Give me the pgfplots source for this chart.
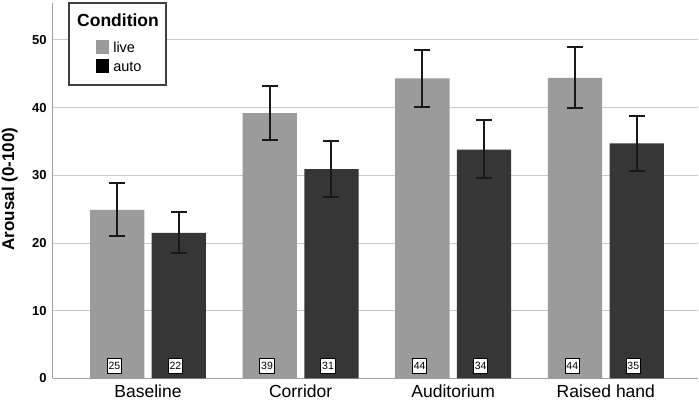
\documentclass[border=0pt]{standalone}
\usepackage{pgfplots}
\pgfplotsset{compat=1.18}
\usepackage{fontspec}
\setmainfont{Liberation Sans}
\definecolor{live}{HTML}{9B9B9B}
\definecolor{auto}{HTML}{363636}
\definecolor{gridc}{HTML}{C8C8C8}
\definecolor{axc}{HTML}{A0A0A0}
\begin{document}
\begin{tikzpicture}[x=1pt,y=1pt]
\begin{axis}[
  at={(53pt,21.6pt)}, anchor=south west,
  scale only axis, width=645pt, height=375.4pt,
  xmin=-0.6225, xmax=3.604, ymin=0, ymax=55.45,
  clip=false,
  axis lines*=left,
  axis line style={axc, line width=1pt},
  x axis line style={-}, y axis line style={-},
  major tick length=0pt,
  ytick={0,10,20,30,40,50},
  ymajorgrids, grid style={gridc, line width=1pt},
  xtick={0,1,2,3},
  xticklabels={Baseline,Corridor,Auditorium,Raised hand},
  /pgf/number format/assume math mode=true,
  yticklabel style={font=\fontsize{13}{15}\selectfont\bfseries, anchor=east, inner sep=0pt, xshift=-6.3pt},
  xticklabel style={font=\fontsize{17.5}{20}\selectfont, anchor=base, inner sep=0pt, yshift=-19pt},
  ylabel={\textbf{Arousal (0-100)}},
  ylabel style={font=\fontsize{17}{20}\selectfont, at={(axis description cs:-0.0671,0.5045)}, anchor=center, rotate=0},
  legend style={draw=none, fill=none, inner sep=0pt, outer sep=0pt,
    at={(axis description cs:0.0662,0.9014)}, anchor=north west,
    column sep=4.7pt, row sep=5.3pt,
    nodes={inner sep=0pt, font=\fontsize{14.5}{16}\selectfont}},
  legend cell align=left,
  error bars/error bar style={line width=2pt, black!90},
  error bars/error mark options={line width=2pt, black!90, mark size=8pt, rotate=90},
]
\draw[black!75, line width=1.2pt, fill=white] (axis description cs:0.0248,0.7816) rectangle (axis description cs:0.1752,1.0);
\node[anchor=base west, font=\fontsize{17.5}{20}\selectfont\bfseries, inner sep=0pt] at (axis description cs:0.0372,0.9369) {Condition};

\addplot[forget plot, ybar, bar width=54.3pt, fill=live, draw=none,
  error bars/.cd, y dir=both, y explicit]
  coordinates {
  (-0.202,24.9) += (0,3.9) -= (0,3.8)
  (0.798,39.2) += (0,4.0) -= (0,4.0)
  (1.798,44.3) += (0,4.2) -= (0,4.2)
  (2.798,44.4) += (0,4.5) -= (0,4.4)
  };
\addplot[forget plot, ybar, bar width=54.3pt, fill=auto, draw=none,
  error bars/.cd, y dir=both, y explicit]
  coordinates {
  (0.202,21.5) += (0,3.1) -= (0,3.0)
  (1.202,30.9) += (0,4.1) -= (0,4.1)
  (2.202,33.8) += (0,4.3) -= (0,4.2)
  (3.202,34.7) += (0,4.1) -= (0,4.1)
  };
\addplot[forget plot, only marks, mark=none, nodes near coords, point meta=explicit symbolic,
  nodes near coords align=center,
  every node near coord/.style={draw=black, line width=0.9pt, fill=white, inner sep=0pt,
    minimum width=14.5pt, minimum height=15pt, font=\fontsize{10.5}{12}\selectfont, anchor=center}]
  coordinates {
  (-0.22,1.86) [25] (0.18,1.86) [22]
  (0.78,1.86) [39] (1.18,1.86) [31]
  (1.78,1.86) [44] (2.18,1.86) [34]
  (2.78,1.86) [44] (3.18,1.86) [35]
  };
\addlegendimage{legend image code/.code={\fill[live] (0pt,-5.1pt) rectangle (12.5pt,7.9pt);}}
\addlegendentry{live}
\addlegendimage{legend image code/.code={\fill[auto] (0pt,-5.1pt) rectangle (12.5pt,7.9pt);}}
\addlegendentry{auto}
\end{axis}
\pgfresetboundingbox
\path (0pt,0pt) rectangle (699pt,400pt);
\end{tikzpicture}
\end{document}
